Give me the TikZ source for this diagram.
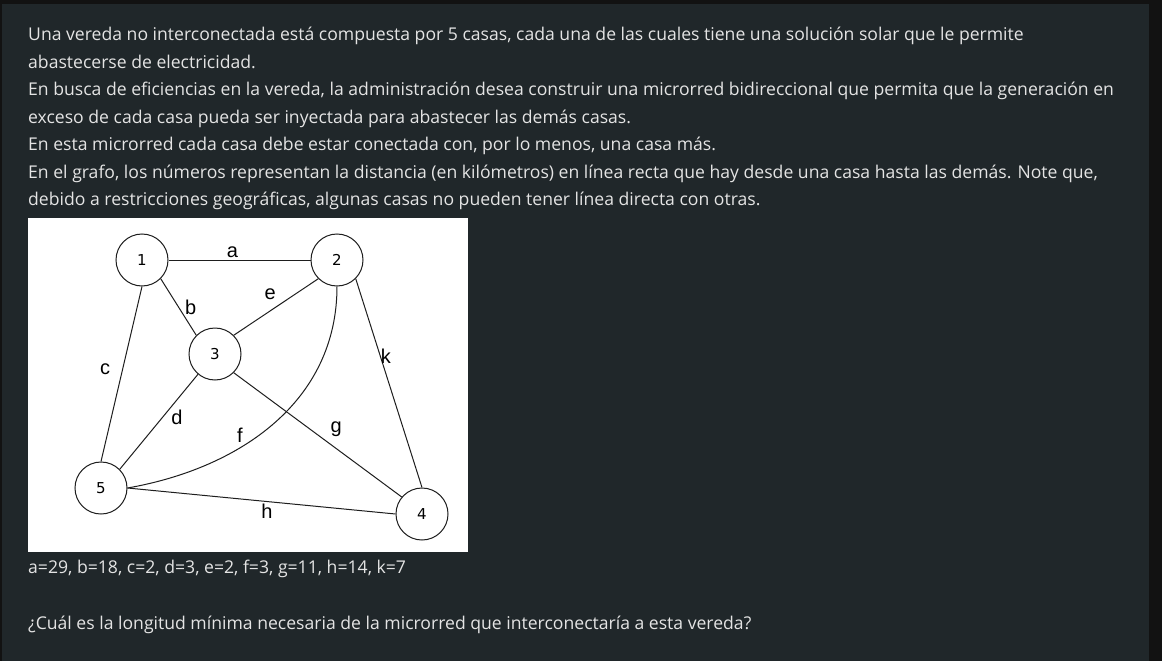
\documentclass[tikz,border=0pt]{standalone}
\usepackage{fontspec}
\setmainfont{Open Sans}
\newfontfamily\grafofont{DejaVu Sans}
\newfontfamily\etiqfont{Liberation Sans}
\definecolor{marco}{RGB}{18,18,18}
\definecolor{fondo}{RGB}{32,39,42}
\definecolor{texto}{RGB}{228,228,228}
\definecolor{trazo}{RGB}{30,30,30}

\begin{document}
\begin{tikzpicture}
	[x=1pt,y=-1pt]
	\tikzstyle{linea}=[anchor=base west, inner sep=0pt, text=texto, font=\fontsize{17.6}{20}\selectfont];
	\tikzstyle{casa}=[circle, draw=trazo, line width=1pt, minimum size=52pt, inner sep=0pt, font=\grafofont\fontsize{15}{15}\selectfont];
	\tikzstyle{etiq}=[font=\etiqfont\fontsize{20}{20}\selectfont, inner sep=2pt, text=black];

	\useasboundingbox (0,0) rectangle (1162,661);
	\fill[marco] (0,0) rectangle (1162,661);
	\fill[fondo] (2,4) rectangle (1149,661);
	\fill[white] (28,218) rectangle (468,552);

	\node[linea] (L1) at (28,41) {Una vereda no interconectada está compuesta por 5 casas, cada una de las cuales tiene una solución solar que le permite};
	\node[linea] (L2) at (28,68.4) {abastecerse de electricidad.};
	\node[linea] (L3) at (28,95.8) {En busca de eficiencias en la vereda, la administración desea construir una microrred bidireccional que permita que la generación en};
	\node[linea] (L4) at (28,123.2) {exceso de cada casa pueda ser inyectada para abastecer las demás casas.};
	\node[linea] (L5) at (28,150.6) {En esta microrred cada casa debe estar conectada con, por lo menos, una casa más.};
	\node[linea] (L6) at (28,178) {En el grafo, los números representan la distancia (en kilómetros) en línea recta que hay desde una casa hasta las demás. Note que,};
	\node[linea] (L7) at (28,205.4) {debido a restricciones geográficas, algunas casas no pueden tener línea directa con otras.};
	\node[linea] (V) at (28,573) {a=29, b=18, c=2, d=3, e=2, f=3, g=11, h=14, k=7};
	\node[linea] (P) at (28,629) {¿Cuál es la longitud mínima necesaria de la microrred que interconectaría a esta vereda?};

	\node[casa] (C1) at (142,260) {1};
	\node[casa] (C2) at (337,260) {2};
	\node[casa] (C3) at (215,354) {3};
	\node[casa] (C4) at (422,514) {4};
	\node[casa] (C5) at (101,488) {5};

	\path[draw=trazo, line width=1pt]
	(C1) edge node[etiq, above, pos=0.45] {a} (C2)
	(C1.-45) edge node[etiq, right=4pt, pos=0.5] {b} (C3.135)
	(C1.south) edge node[etiq, left=10pt, pos=0.47] {c} (C5.north)
	(C3.-130) edge node[etiq, right=6pt, pos=0.45] {d} (C5.45)
	(C2.-135) edge node[etiq, above left=2pt, pos=0.45] {e} (C3.45)
	(C3.-45) edge node[etiq, above right=2pt, pos=0.55] {g} (C4.140)
	(C5.east) edge node[etiq, below, pos=0.52] {h} (C4.west)
	(C2.-45) edge node[etiq, right=-2pt, pos=0.37] {k} (C4.north);

	\draw[trazo, line width=1pt] (C2.south) .. controls +(0,114) and +(114,-20) .. node[etiq, above left, pos=0.62] {f} (C5.east);

\end{tikzpicture}
\end{document}
